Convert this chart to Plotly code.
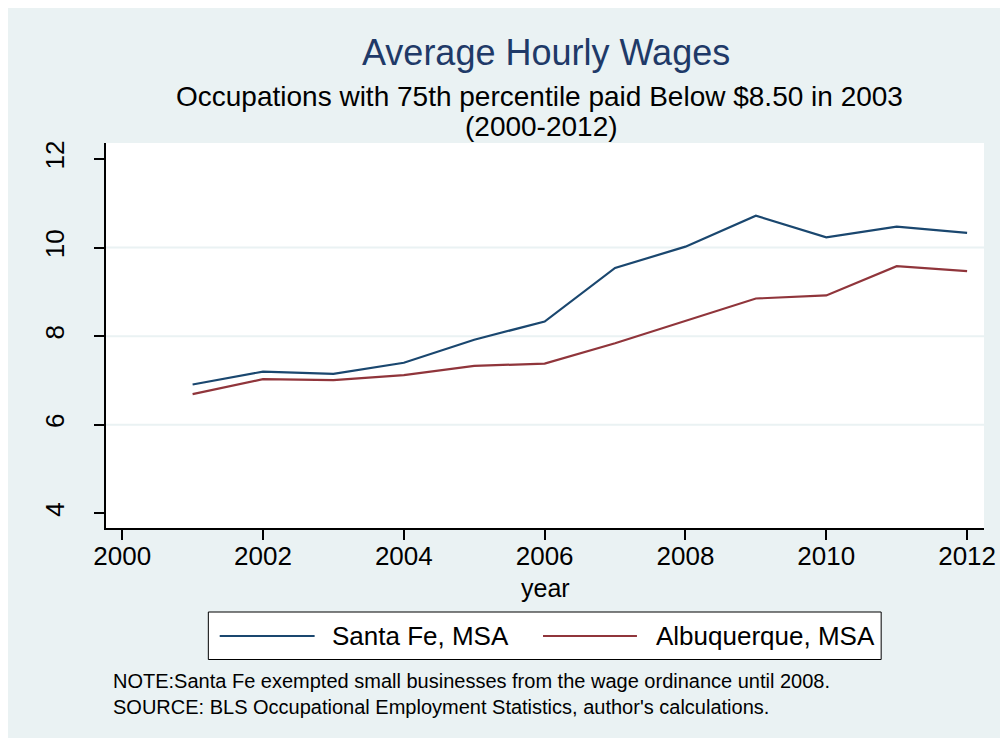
"""Average hourly wages, Santa Fe vs Albuquerque MSA (Stata-style chart)."""

import plotly.graph_objects as go

# --- data -------------------------------------------------------------
YEARS = [2001, 2002, 2003, 2004, 2005, 2006, 2007, 2008, 2009, 2010, 2011, 2012]
SANTA_FE = [6.91, 7.20, 7.15, 7.40, 7.92, 8.33, 9.54, 10.02, 10.72, 10.23, 10.47, 10.33]
ALBUQUERQUE = [6.69, 7.03, 7.01, 7.12, 7.33, 7.38, 7.84, 8.35, 8.85, 8.92, 9.58, 9.47]

X_TICKS = [2000, 2002, 2004, 2006, 2008, 2010, 2012]
Y_TICKS = [4, 6, 8, 10, 12]
GRID_Y = [6, 8, 10]

SERIES = [
    ("Santa Fe, MSA", SANTA_FE, "#1a476f"),
    ("Albuquerque, MSA", ALBUQUERQUE, "#90353b"),
]

TITLE = "Average Hourly Wages"
SUBTITLE_1 = "Occupations with 75th percentile paid Below $8.50 in 2003"
SUBTITLE_2 = "(2000-2012)"
NOTE = ("NOTE:Santa Fe exempted small businesses from the wage ordinance until 2008.<br>"
        "SOURCE: BLS Occupational Employment Statistics, author's calculations.")

# --- layout geometry --------------------------------------------------
# page body has an 8px margin, so the figure is 8px smaller and every
# page-pixel position below is shifted back by OFF
OFF = 8
W, H = 1008 - OFF, 738 - OFF
L, R, T, B = 106 - OFF, 994 - OFF, 143 - OFF, 528 - OFF
BG = "#eaf2f3"
FONT = "Arial, Liberation Sans, sans-serif"


def px_x(x):
    return (x - OFF - L) / (R - L)


def px_y(y):
    return (B - (y - OFF)) / (B - T)


fig = go.Figure()
for name, vals, color in SERIES:
    fig.add_trace(go.Scatter(
        x=YEARS, y=vals, name=name, mode="lines",
        line=dict(color=color, width=2.2), showlegend=False,
    ))

shapes = []
for g in GRID_Y:
    shapes.append(dict(type="line", xref="paper", yref="y", layer="below",
                       x0=0, x1=1, y0=g, y1=g, line=dict(color=BG, width=2)))

# legend box, drawn by hand so the keys are long like Stata's
shapes.append(dict(type="rect", xref="paper", yref="paper",
                   x0=px_x(209.5), x1=px_x(890), y0=px_y(659.5), y1=px_y(612),
                   fillcolor="white", line=dict(color="black", width=1)))
key_spans = [(221, 317, 333), (548, 643, 660)]
annotations = []
for (name, _, color), (k0, k1, tx) in zip(SERIES, key_spans):
    shapes.append(dict(type="line", xref="paper", yref="paper",
                       x0=px_x(k0), x1=px_x(k1), y0=px_y(636), y1=px_y(636),
                       line=dict(color=color, width=2)))
    annotations.append(dict(xref="paper", yref="paper", x=px_x(tx), y=px_y(636),
                            text=name, showarrow=False, xanchor="left", yanchor="middle",
                            font=dict(size=26, color="black")))

annotations += [
    dict(xref="paper", yref="paper", x=px_x(551), y=px_y(53), text=TITLE,
         showarrow=False, xanchor="center", yanchor="middle",
         font=dict(size=36, color="#1f3a68")),
    dict(xref="paper", yref="paper", x=px_x(544), y=px_y(96), text=SUBTITLE_1,
         showarrow=False, xanchor="center", yanchor="middle",
         font=dict(size=28, color="black")),
    dict(xref="paper", yref="paper", x=px_x(546), y=px_y(126), text=SUBTITLE_2,
         showarrow=False, xanchor="center", yanchor="middle",
         font=dict(size=28, color="black")),
    dict(xref="paper", yref="paper", x=px_x(551), y=px_y(588), text="year",
         showarrow=False, xanchor="center", yanchor="middle",
         font=dict(size=25, color="black")),
    dict(xref="paper", yref="paper", x=px_x(111), y=px_y(694), text=NOTE,
         showarrow=False, xanchor="left", yanchor="middle", align="left",
         font=dict(size=20, color="black")),
]

fig.update_layout(
    width=W, height=H,
    margin=dict(l=L, r=W - R, t=T, b=H - B, pad=0),
    paper_bgcolor=BG,
    plot_bgcolor="white",
    font=dict(family=FONT, size=26, color="black"),
    showlegend=False,
    shapes=shapes,
    annotations=annotations,
    xaxis=dict(
        range=[1999.77, 2012.24], tickvals=X_TICKS, ticktext=[str(v) for v in X_TICKS],
        showgrid=False, zeroline=False, showline=True, linecolor="black", linewidth=1.5,
        ticks="outside", ticklen=10, tickwidth=1.5, tickcolor="black",
        tickfont=dict(size=26, color="black"), ticklabelstandoff=-6,
    ),
    yaxis=dict(
        range=[3.67, 12.36], tickvals=Y_TICKS, ticktext=[str(v) for v in Y_TICKS],
        showgrid=False, zeroline=False, showline=True, linecolor="black", linewidth=1.5,
        ticks="outside", ticklen=10, tickwidth=1.5, tickcolor="black",
        tickangle=-90, tickfont=dict(size=26, color="black"), ticklabelstandoff=20,
    ),
)

fig.write_html("out.html")
